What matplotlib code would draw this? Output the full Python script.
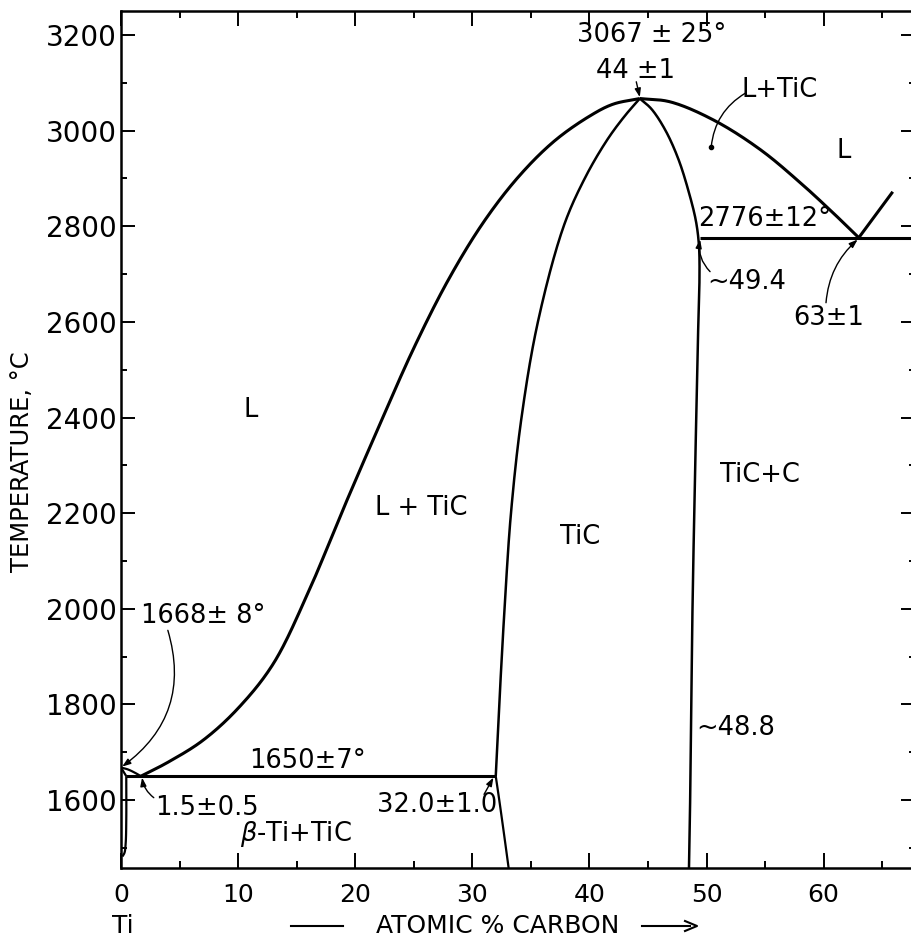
import numpy as np
import matplotlib
matplotlib.use("Agg")
import matplotlib.pyplot as plt
from matplotlib.lines import Line2D

# ── phase-boundary data (atomic % C, temperature °C) ─────────────────────
ti_liq_x = [0.0, 0.6, 1.2, 1.7]
ti_liq_y = [1668, 1664, 1657, 1650]
ti_sol_x = [0.0, 0.45]
ti_sol_y = [1668, 1650]
beta_x = [0.45, 0.45, 0.4, 0.3, 0.12]
beta_y = [1650, 1560, 1510, 1490, 1482]

liq_left_x = [1.7, 4.0, 7.0, 10.0, 13.0, 16.0, 19.0, 22.0, 25.0, 28.0, 31.0,
              34.0, 37.0, 40.0, 42.0, 44.3]
liq_left_y = [1650, 1679, 1725, 1792, 1885, 2035, 2210, 2380, 2545, 2690, 2810,
              2905, 2978, 3030, 3055, 3067]

tic_left_x = [32.0, 32.3, 32.75, 33.3, 34.2, 35.6, 37.8, 39.6, 41.5, 43.0, 44.3]
tic_left_y = [1650, 1800, 2000, 2200, 2400, 2600, 2800, 2900, 2980, 3030, 3067]
tic_low_x = [32.0, 32.3, 32.7, 33.1]
tic_low_y = [1650, 1600, 1530, 1458]

tic_right_x = [44.3, 45.3, 46.5, 47.6, 48.5, 49.1, 49.35, 49.4, 49.3, 49.12, 48.95,
               48.8, 48.7, 48.6, 48.5]
tic_right_y = [3067, 3045, 3000, 2940, 2870, 2810, 2760, 2700, 2600, 2400, 2200,
               2000, 1800, 1600, 1458]

liq_right_x = [44.3, 46.9, 50.6, 54.6, 58.0, 60.8, 63.0]
liq_right_y = [3067, 3060, 3022, 2960, 2891, 2828, 2776]
graph_liq_x = [63.0, 65.9]
graph_liq_y = [2776, 2872]

eut_low_x = [0.45, 32.0]
eut_low_y = [1650, 1650]
eut_high_x = [49.4, 70.0]
eut_high_y = [2776, 2776]

# region / point labels: (text, x, y)
labels = [
    ("3067 ± 25°", 45.3, 3200),
    ("44 ±1", 43.9, 3124),
    ("L+TiC", 56.2, 3085),
    ("L", 61.7, 2958),
    ("2776±12°", 55.0, 2815),
    ("~49.4", 53.4, 2684),
    ("63±1", 60.4, 2608),
    ("L", 11.1, 2416),
    ("L + TiC", 25.6, 2210),
    ("TiC", 39.2, 2150),
    ("TiC+C", 54.6, 2280),
    ("1.5±0.5", 7.3, 1583),
    ("1650±7°", 15.9, 1682),
    ("32.0±1.0", 27.0, 1590),
    ("$\\beta$-Ti+TiC", 14.9, 1529),
]

# leader lines: (from x, from y, to x, to y, curvature, arrow?)
leaders = [
    (44.0, 3102, 44.3, 3070, 0.0, True),
    (53.3, 3078, 50.4, 2966, 0.25, False),
    (50.3, 2705, 49.45, 2772, -0.25, True),
    (60.2, 2640, 62.9, 2772, -0.2, True),
    (4.0, 1955, 0.1, 1670, -0.35, True),
    (2.8, 1605, 1.8, 1647, -0.2, True),
    (31.0, 1612, 31.8, 1647, 0.0, True),
]

xticks = [0, 10, 20, 30, 40, 50, 60]
yticks = [1600, 1800, 2000, 2200, 2400, 2600, 2800, 3000, 3200]


def smooth(xs, ys, n=30, alpha=0.5):
    # centripetal Catmull-Rom through the read points, in axis-scaled space
    p = np.column_stack([np.asarray(xs, float) / 68.0, np.asarray(ys, float) / 1800.0])
    if len(p) < 3:
        return xs, ys
    p = np.vstack([2 * p[0] - p[1], p, 2 * p[-1] - p[-2]])
    out = []
    for i in range(1, len(p) - 2):
        P0, P1, P2, P3 = p[i - 1], p[i], p[i + 1], p[i + 2]
        t0 = 0.0
        t1 = t0 + np.linalg.norm(P1 - P0) ** alpha
        t2 = t1 + np.linalg.norm(P2 - P1) ** alpha
        t3 = t2 + np.linalg.norm(P3 - P2) ** alpha
        t = np.linspace(t1, t2, n, endpoint=False)[:, None]
        A1 = (t1 - t) / (t1 - t0) * P0 + (t - t0) / (t1 - t0) * P1
        A2 = (t2 - t) / (t2 - t1) * P1 + (t - t1) / (t2 - t1) * P2
        A3 = (t3 - t) / (t3 - t2) * P2 + (t - t2) / (t3 - t2) * P3
        B1 = (t2 - t) / (t2 - t0) * A1 + (t - t0) / (t2 - t0) * A2
        B2 = (t3 - t) / (t3 - t1) * A2 + (t - t1) / (t3 - t1) * A3
        out.append((t2 - t) / (t2 - t1) * B1 + (t - t1) / (t2 - t1) * B2)
    out.append(p[-2][None, :])
    out = np.vstack(out)
    return out[:, 0] * 68.0, out[:, 1] * 1800.0


W, H = 911, 942
fig = plt.figure(figsize=(W / 100, H / 100), dpi=100)
ax = fig.add_axes([121 / W, (H - 868) / H, (915 - 121) / W, (868 - 11) / H])
ax.set_xlim(0, 67.8)
ax.set_ylim(1458, 3250)

lw = 2.2
k = "black"
curves = [(ti_liq_x, ti_liq_y, 1.6), (ti_sol_x, ti_sol_y, 1.6), (beta_x, beta_y, 1.6),
          (liq_left_x, liq_left_y, lw), (tic_left_x, tic_left_y, 1.8),
          (tic_low_x, tic_low_y, 1.6), (tic_right_x, tic_right_y, 1.8),
          (liq_right_x, liq_right_y, lw), (graph_liq_x, graph_liq_y, lw),
          (eut_low_x, eut_low_y, lw), (eut_high_x, eut_high_y, lw)]
for xs, ys, w in curves:
    sx, sy = smooth(xs, ys)
    ax.plot(sx, sy, color=k, lw=w, solid_capstyle="butt", solid_joinstyle="round")

fs = 18.5
for txt, x, y in labels:
    ax.text(x, y, txt, ha="center", va="center", fontsize=fs)
ax.text(1.7, 1985, "1668± 8°", ha="left", va="center", fontsize=fs)
ax.text(49.1, 1750, "~48.8", ha="left", va="center", fontsize=fs)

for x0, y0, x1, y1, rad, arr in leaders:
    ax.annotate("", xy=(x1, y1), xytext=(x0, y0),
                arrowprops=dict(arrowstyle="-|>,head_length=0.5,head_width=0.18" if arr else "-",
                                color=k, lw=1.0, shrinkA=0, shrinkB=0,
                                connectionstyle=f"arc3,rad={rad}"))
ax.plot([50.4], [2966], "o", color=k, ms=3)

# axes styling
ax.set_xticks(xticks)
ax.set_xticklabels([str(v) for v in xticks])
ax.set_xticks(np.arange(5, 68, 10), minor=True)
ax.set_yticks(yticks)
ax.set_yticklabels([str(v) for v in yticks])
ax.set_yticks(np.arange(1500, 3250, 200), minor=True)
ax.tick_params(which="both", direction="in", top=True, right=True, width=1.4, color=k)
ax.tick_params(axis="x", which="major", length=11, labelsize=18, pad=11)
ax.tick_params(axis="x", which="minor", length=5)
ax.tick_params(axis="y", which="major", length=10, labelsize=20, pad=3)
ax.tick_params(axis="y", which="minor", length=4.5)
for s in ax.spines.values():
    s.set_linewidth(1.8)

fig.text(22 / W, 1 - 462 / H, "TEMPERATURE, °C", rotation=90, ha="center", va="center",
         fontsize=17.5)
fig.text(123 / W, 1 - 926 / H, "Ti", ha="center", va="center", fontsize=18)
fig.text(498 / W, 1 - 926 / H, "ATOMIC % CARBON", ha="center", va="center", fontsize=18)
fig.add_artist(Line2D([291 / W, 343 / W], [1 - 926 / H] * 2, color=k, lw=1.5))
fig.add_artist(Line2D([642 / W, 690 / W], [1 - 926 / H] * 2, color=k, lw=1.5))
fig.add_artist(Line2D([685 / W, 697 / W, 685 / W], [1 - 921 / H, 1 - 926 / H, 1 - 931 / H],
                      color=k, lw=1.5))

fig.savefig("out.png", dpi=100)
